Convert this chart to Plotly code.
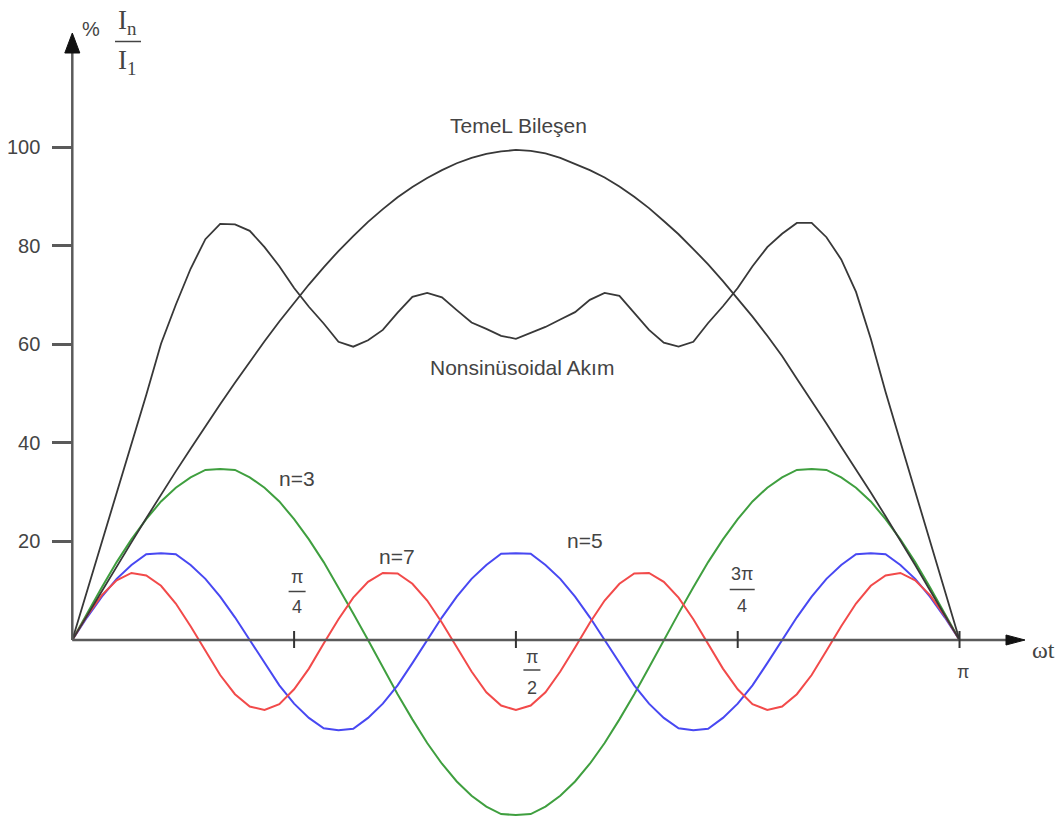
import plotly.graph_objects as go

# ---------------------------------------------------------------------------
# Data: harmonic content of a non-sinusoidal current, in % of the fundamental
# ---------------------------------------------------------------------------
# ωt sample points, degrees (0 .. 180 = 0 .. π)
wt_deg = list(range(0, 181, 3))

# fundamental component ("TemeL Bileşen")
temel = [0, 5.0, 10.0, 14.9, 19.8, 24.7, 29.5, 34.2, 38.8, 43.4, 47.8, 52.2, 56.5,
         60.6, 64.6, 68.4, 72.1, 75.6, 78.9, 81.9, 84.8, 87.4, 89.8, 91.9, 93.7,
         95.3, 96.7, 97.8, 98.6, 99.1, 99.4, 99.2, 98.7, 97.8, 96.6, 95.3, 93.8,
         92.0, 89.9, 87.6, 85.0, 82.3, 79.3, 76.2, 72.8, 69.3, 65.6, 61.7, 57.6,
         53.0, 48.5, 43.9, 39.2, 34.6, 29.9, 25.1, 20.2, 15.2, 10.1, 5.1, 0]

# resulting non-sinusoidal current ("Nonsinüsoidal Akım")
nonsin = [0, 9.9, 19.9, 29.8, 39.7, 49.7, 60.1, 68.0, 75.3, 81.3, 84.4, 84.3, 83.0,
          79.7, 75.8, 71.4, 67.6, 64.2, 60.5, 59.5, 60.8, 62.9, 66.4, 69.6, 70.4,
          69.5, 66.9, 64.4, 63.1, 61.7, 61.1, 62.3, 63.5, 65.0, 66.5, 69.0, 70.4,
          69.8, 66.3, 62.9, 60.3, 59.5, 60.5, 64.3, 67.7, 71.4, 75.8, 79.7, 82.4,
          84.6, 84.6, 81.7, 77.2, 70.6, 61.1, 50.3, 40.2, 30.2, 20.1, 10.1, 0]

# 3rd harmonic
n3 = [0, 5.4, 10.7, 15.8, 20.4, 24.5, 28.1, 30.9, 33.0, 34.5, 34.7, 34.5, 33.0,
      30.9, 28.1, 24.5, 20.4, 15.8, 10.7, 5.4, 0, -5.6, -11.0, -16.1, -20.9,
      -25.1, -28.7, -31.6, -33.8, -35.3, -35.5, -35.3, -33.8, -31.6, -28.7, -25.1,
      -20.9, -16.1, -11.0, -5.6, 0, 5.4, 10.7, 15.8, 20.4, 24.5, 28.1, 30.9, 33.0,
      34.5, 34.7, 34.5, 33.0, 30.9, 28.1, 24.5, 20.4, 15.8, 10.7, 5.4, 0]

# 5th harmonic
n5 = [0, 4.6, 8.8, 12.4, 15.2, 17.4, 17.6, 17.4, 15.2, 12.4, 8.8, 4.6, 0,
      -4.7, -9.2, -12.9, -15.8, -17.9, -18.3, -18.0, -15.8, -12.9, -9.2, -4.7, 0,
      4.6, 8.8, 12.4, 15.2, 17.5, 17.6, 17.5, 15.2, 12.4, 8.8, 4.6, 0,
      -4.7, -9.2, -12.9, -15.8, -17.9, -18.3, -18.0, -15.8, -12.9, -9.2, -4.7, 0,
      4.6, 8.8, 12.4, 15.2, 17.4, 17.6, 17.4, 15.2, 12.4, 8.8, 4.6, 0]

# 7th harmonic
n7 = [0, 4.9, 9.1, 12.1, 13.6, 13.1, 11.0, 7.4, 2.8, -2.2, -7.1, -11.0, -13.5,
      -14.2, -13.0, -10.0, -5.8, -0.7, 4.2, 8.6, 11.8, 13.6, 13.5, 11.4, 8.0,
      3.5, -1.5, -6.4, -10.6, -13.3, -14.2, -13.3, -10.6, -6.4, -1.5, 3.5, 8.0,
      11.4, 13.5, 13.6, 11.8, 8.6, 4.2, -0.7, -5.8, -10.0, -13.0, -14.2, -13.5,
      -11.0, -7.1, -2.2, 2.8, 7.4, 11.0, 13.1, 13.6, 12.1, 9.1, 4.9, 0]

# axis ticks
y_tick_vals = [20, 40, 60, 80, 100]
y_tick_text = ["20", "40", "60", "80", "100"]
x_tick_vals = [45, 90, 135, 180]
x_tick_num = ["π", "π", "3π", "π"]
x_tick_den = ["4", "2", "4", ""]

# curve captions
curve_labels = ["TemeL Bileşen", "Nonsinüsoidal Akım", "n=3", "n=7", "n=5"]

# ---------------------------------------------------------------------------
# Geometry (pixels) and styles
# ---------------------------------------------------------------------------
W, H = 1061, 823
X0_PX, Y0_PX = 72.3, 640.0          # where the two axes meet
PX_PER_DEG = 4.929
PX_PER_PCT = 4.93

x_range = [-X0_PX / PX_PER_DEG, (W - X0_PX) / PX_PER_DEG]
y_range = [-(H - Y0_PX) / PX_PER_PCT, Y0_PX / PX_PER_PCT]


def pxx(xp):
    return xp / W


def pxy(yp):
    return 1 - yp / H


AXIS_COLOR = "#5a5a5a"
TEXT_COLOR = "#444444"
SANS = "Liberation Sans, Arial, sans-serif"
SERIF = "Liberation Serif, Times New Roman, serif"


def label(x, y, text, font, xref="paper", yref="paper", **kw):
    return dict(x=x, y=y, xref=xref, yref=yref, text=text, showarrow=False,
                xanchor="center", yanchor="middle", font=font, **kw)


fig = go.Figure()

series = [
    (n3, "#3f9f3f", 2.0),
    (n5, "#4848f2", 2.0),
    (n7, "#f24a4a", 2.0),
    (temel, "#383838", 1.8),
    (nonsin, "#383838", 1.8),
]
for ys, color, width in series:
    fig.add_trace(go.Scatter(x=wt_deg, y=ys, mode="lines",
                             line=dict(color=color, width=width),
                             hoverinfo="skip", showlegend=False))

shapes = []
annotations = []

# axis lines with arrow heads
shapes.append(dict(type="line", xref="paper", yref="paper",
                   x0=pxx(X0_PX), y0=pxy(Y0_PX), x1=pxx(X0_PX), y1=pxy(50),
                   line=dict(color=AXIS_COLOR, width=2.5)))
shapes.append(dict(type="line", xref="paper", yref="paper",
                   x0=pxx(X0_PX), y0=pxy(Y0_PX), x1=pxx(1010), y1=pxy(Y0_PX),
                   line=dict(color=AXIS_COLOR, width=2.5)))
shapes.append(dict(type="path", xref="paper", yref="paper",
                   path=(f"M {pxx(X0_PX - 7.5)},{pxy(53)} L {pxx(X0_PX)},{pxy(33)} "
                         f"L {pxx(X0_PX + 7.5)},{pxy(53)} Z"),
                   fillcolor="#111111", line=dict(color="#111111", width=1)))
shapes.append(dict(type="path", xref="paper", yref="paper",
                   path=(f"M {pxx(1006)},{pxy(Y0_PX - 5)} L {pxx(1025)},{pxy(Y0_PX)} "
                         f"L {pxx(1006)},{pxy(Y0_PX + 5)} Z"),
                   fillcolor="#111111", line=dict(color="#111111", width=1)))

# x ticks crossing the axis
for t in x_tick_vals:
    shapes.append(dict(type="line", xref="x", yref="paper",
                       x0=t, x1=t, y0=pxy(Y0_PX + 8), y1=pxy(Y0_PX - 9),
                       line=dict(color="#333333", width=2)))

# fraction tick labels: (x shift, numerator/bar/denominator y shifts, bar half width)
frac_layout = [
    (3.0, 63.0, 48.5, 33.5, 8.5),
    (16.0, -16.5, -30.0, -48.0, 8.5),
    (4.5, 66.5, 50.5, 34.0, 12.5),
    (3.0, -31.5, None, None, 0),
]
frac_font = dict(family=SANS, size=18, color=TEXT_COLOR)
for t, num, den, (xs, ys_num, ys_bar, ys_den, hw) in zip(x_tick_vals, x_tick_num,
                                                         x_tick_den, frac_layout):
    annotations.append(label(t, 0, num, frac_font, xref="x", yref="y",
                             xshift=xs, yshift=ys_num))
    if den:
        annotations.append(label(t, 0, den, frac_font, xref="x", yref="y",
                                 xshift=xs, yshift=ys_den))
        shapes.append(dict(type="line", xref="x", yref="y",
                           x0=t + (xs - hw) / PX_PER_DEG, x1=t + (xs + hw) / PX_PER_DEG,
                           y0=ys_bar / PX_PER_PCT, y1=ys_bar / PX_PER_PCT,
                           line=dict(color=TEXT_COLOR, width=1.5)))

# ωt axis title
annotations.append(label(pxx(1043.5), pxy(650), "ωt",
                         dict(family=SERIF, size=24, color=TEXT_COLOR)))

# % In / I1 axis title
annotations.append(label(pxx(91), pxy(29), "%",
                         dict(family=SANS, size=20, color=TEXT_COLOR)))
annotations.append(label(pxx(127), pxy(22), "I<sub>n</sub>",
                         dict(family=SERIF, size=27, color=TEXT_COLOR)))
annotations.append(label(pxx(127), pxy(62), "I<sub>1</sub>",
                         dict(family=SERIF, size=27, color=TEXT_COLOR)))
shapes.append(dict(type="line", xref="paper", yref="paper",
                   x0=pxx(115), x1=pxx(141), y0=pxy(41.5), y1=pxy(41.5),
                   line=dict(color=TEXT_COLOR, width=1.5)))

# curve captions
caption_pos = [(518.5, 125), (521.5, 367.5), (296.5, 478), (396.5, 556), (585, 540)]
caption_font = dict(family=SANS, size=21, color=TEXT_COLOR)
for text, (cx, cy) in zip(curve_labels, caption_pos):
    annotations.append(label(pxx(cx), pxy(cy), text, caption_font))

fig.update_layout(
    width=W, height=H,
    margin=dict(l=0, r=0, t=0, b=0),
    paper_bgcolor="white", plot_bgcolor="white",
    showlegend=False,
    xaxis=dict(range=x_range, visible=False, fixedrange=True),
    yaxis=dict(range=y_range, anchor="free", position=X0_PX / W, side="left",
               showline=False, showgrid=False, zeroline=False,
               tickmode="array", tickvals=y_tick_vals, ticktext=y_tick_text,
               ticks="outside", ticklen=20, tickwidth=2.5, tickcolor=AXIS_COLOR,
               ticklabelstandoff=8,
               tickfont=dict(family=SANS, size=20, color=TEXT_COLOR),
               automargin=False, fixedrange=True),
    shapes=shapes,
    annotations=annotations,
)

fig.write_html("out.html")
